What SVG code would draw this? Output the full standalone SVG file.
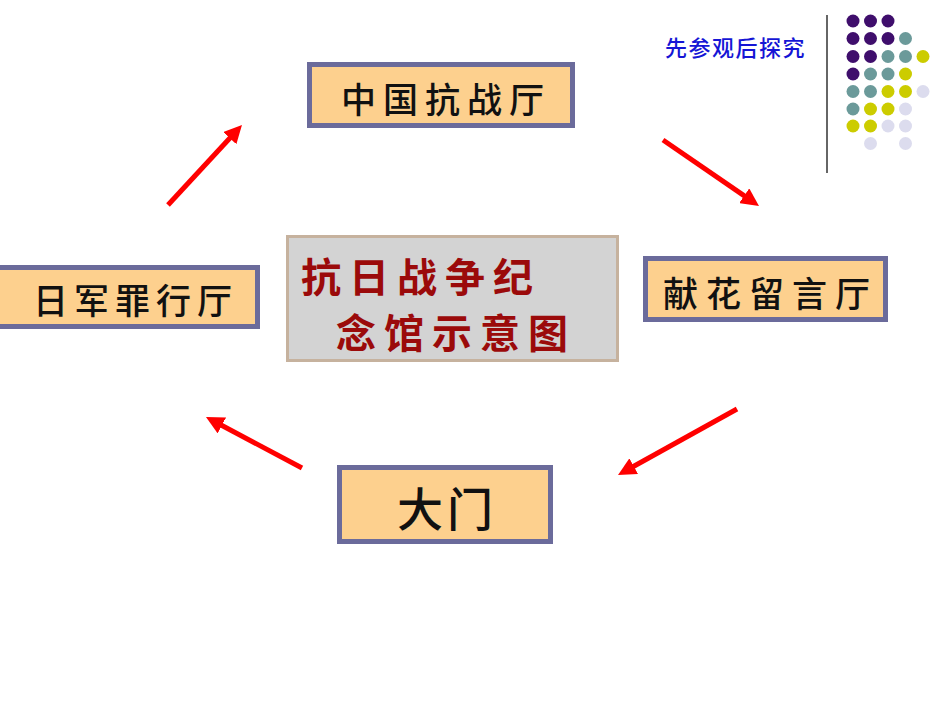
<svg xmlns="http://www.w3.org/2000/svg" width="950" height="713" viewBox="0 0 950 713">
<style>
.box{fill:#fdd08e;stroke:#6b6b9b;stroke-width:5}
.lbl{font-family:"Noto Sans CJK SC","Noto Sans CJK TC",sans-serif;font-size:35px;font-weight:500;fill:#111}
.big{font-size:46px}
.title{font-family:"Noto Sans CJK SC",sans-serif;font-size:40px;font-weight:bold;fill:#9b0a0a;letter-spacing:8px}
.arr{stroke:#ff0000;stroke-width:5;fill:none;marker-end:url(#ah)}
.p{fill:#3f0e6c}.t{fill:#6b9a9a}.y{fill:#cccc00}.l{fill:#dcdcee}
</style>
<defs>
<marker id="ah" markerUnits="userSpaceOnUse" markerWidth="20" markerHeight="18" refX="2" refY="9" orient="auto">
<path d="M0,0 L18,9 L0,18 z" fill="#ff0000"/>
</marker>
</defs>
<rect width="950" height="713" fill="#ffffff"/>
<g id="decor">
<line x1="827" y1="15" x2="827" y2="173" stroke="#333" stroke-width="1.5"/>
<g>
<circle class="p" cx="853" cy="21" r="6.5"/><circle class="p" cx="870.5" cy="21" r="6.5"/><circle class="p" cx="888" cy="21" r="6.5"/>
<circle class="p" cx="853" cy="38.5" r="6.5"/><circle class="p" cx="870.5" cy="38.5" r="6.5"/><circle class="p" cx="888" cy="38.5" r="6.5"/><circle class="t" cx="905.5" cy="38.5" r="6.5"/>
<circle class="p" cx="853" cy="56.5" r="6.5"/><circle class="p" cx="870.5" cy="56.5" r="6.5"/><circle class="t" cx="888" cy="56.5" r="6.5"/><circle class="t" cx="905.5" cy="56.5" r="6.5"/><circle class="y" cx="923" cy="56.5" r="6.5"/>
<circle class="p" cx="853" cy="74" r="6.5"/><circle class="t" cx="870.5" cy="74" r="6.5"/><circle class="t" cx="888" cy="74" r="6.5"/><circle class="y" cx="905.5" cy="74" r="6.5"/>
<circle class="t" cx="853" cy="91.5" r="6.5"/><circle class="t" cx="870.5" cy="91.5" r="6.5"/><circle class="y" cx="888" cy="91.5" r="6.5"/><circle class="y" cx="905.5" cy="91.5" r="6.5"/><circle class="l" cx="923" cy="91.5" r="6.5"/>
<circle class="t" cx="853" cy="109" r="6.5"/><circle class="y" cx="870.5" cy="109" r="6.5"/><circle class="y" cx="888" cy="109" r="6.5"/><circle class="l" cx="905.5" cy="109" r="6.5"/>
<circle class="y" cx="853" cy="126" r="6.5"/><circle class="y" cx="870.5" cy="126" r="6.5"/><circle class="l" cx="888" cy="126" r="6.5"/><circle class="l" cx="905.5" cy="126" r="6.5"/>
<circle class="l" cx="870.5" cy="143.5" r="6.5"/><circle class="l" cx="905.5" cy="143.5" r="6.5"/>
</g>
<text x="665" y="55.5" font-family="Noto Sans CJK SC,sans-serif" font-size="22" font-weight="500" fill="#1515d5" letter-spacing="1.5">先参观后探究</text>
</g>
<g id="connectors">
<line class="arr" x1="168" y1="205" x2="231.1" y2="136.7"/>
<line class="arr" x1="663" y1="140" x2="745.8" y2="196.9"/>
<line class="arr" x1="737" y1="409" x2="632" y2="467.2"/>
<line class="arr" x1="302" y1="468" x2="220.1" y2="424.5"/>
</g>
<g id="center">
<rect x="287.5" y="236.5" width="330" height="124" fill="#d3d3d3" stroke="#c6b29e" stroke-width="3"/>
<text class="title" x="301" y="292">抗日战争纪</text>
<text class="title" x="336" y="348">念馆示意图</text>
</g>
<g id="zhongguo">
<rect class="box" x="309.5" y="64.5" width="263" height="61"/>
<text class="lbl" x="341" y="113" letter-spacing="7">中国抗战厅</text>
</g>
<g id="rijun">
<rect class="box" x="-3" y="267.5" width="260.5" height="59"/>
<text class="lbl" x="33" y="314" letter-spacing="6">日军罪行厅</text>
</g>
<g id="xianhua">
<rect class="box" x="645.5" y="258.5" width="240" height="61"/>
<text class="lbl" x="663" y="307" letter-spacing="8">献花留言厅</text>
</g>
<g id="damen">
<rect class="box" x="339.5" y="467.5" width="211" height="74"/>
<text class="lbl big" x="397" y="526" letter-spacing="4">大门</text>
</g>
</svg>
